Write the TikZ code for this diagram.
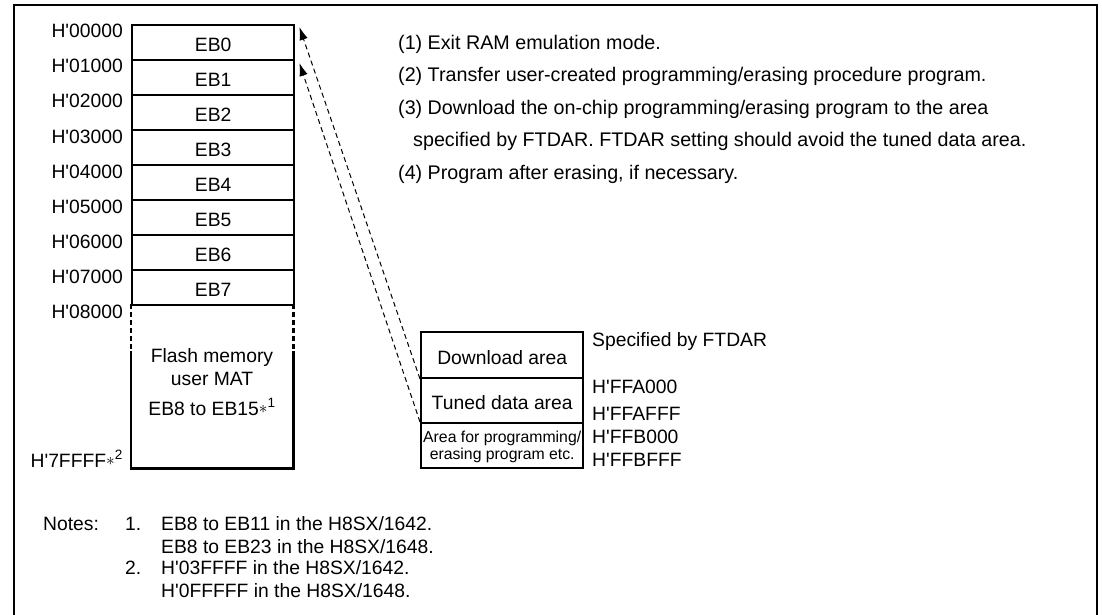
\documentclass[tikz,border=0pt]{standalone}
\usepackage{fontspec}
\setmainfont{Liberation Sans}
\usetikzlibrary{arrows.meta}
\newcommand{\starsup}[1]{\raisebox{0.15ex}{\fontsize{18}{18}\selectfont$\ast$}\textsuperscript{#1}}
\newcommand{\hq}{H\textquotesingle}
\begin{document}
\begin{tikzpicture}[x=1pt,y=-1pt,
  frame/.style={line width=2.6pt},
  plainbox/.style={draw, line width=2.4pt, inner sep=0pt, anchor=north west, minimum width=162pt},
  box/.style={plainbox, font=\fontsize{19.3}{22}\selectfont, text height=18pt, text depth=0pt},
  lbl/.style={font=\fontsize{19.3}{22}\selectfont, inner sep=0pt},
  small/.style={font=\fontsize{15.8}{16.5}\selectfont, inner sep=0pt, align=center},
  stepline/.style={font=\fontsize{19.7}{22}\selectfont, inner sep=0pt, anchor=base west},
  arr/.style={line width=1pt, dash pattern=on 5pt off 3.5pt, -{Latex[length=13pt,width=8.5pt]}},
]
\useasboundingbox (0,0) rectangle (1102,615);
\draw[frame] (14,616) -- (14,5) -- (1097,5) -- (1097,616);

% memory map
\foreach \i in {0,...,7}{
  \node[box, minimum height=35pt] (eb\i) at (131,{24+35*\i}) {EB\i};
}
\foreach \i in {0,...,8}{
  \node[lbl, anchor=base east] (ad\i) at (123,{38+35*\i}) {\hq0\i000};
}
\node[inner sep=0pt, anchor=north west, minimum width=162pt, minimum height=164pt] (flash) at (131,304) {};
\draw[line width=2.4pt] ([yshift=-47pt]flash.north west) -- (flash.south west) -- (flash.south east) -- ([yshift=-47pt]flash.north east);
\draw[line width=2.4pt, dash pattern=on 5pt off 3pt] (flash.north west) -- ([yshift=-47pt]flash.north west);
\draw[line width=2.4pt, dash pattern=on 5pt off 3pt] (flash.north east) -- ([yshift=-47pt]flash.north east);
\node[lbl, anchor=base] (fm1) at (212,362) {Flash memory};
\node[lbl, anchor=base] (fm2) at (212,385) {user MAT};
\node[lbl, anchor=base] (fm3) at (212,415) {EB8 to EB15\starsup{1}};
\node[lbl, anchor=base east] (adend) at (123,467) {\hq7FFFF\starsup{2}};

% RAM area
\node[box, minimum height=46pt] (dl) at (420,331) {Download area};
\node[box, minimum height=45pt] (td) at (420,377) {Tuned data area};
\node[plainbox, minimum height=45pt] (ap) at (420,422) {};
\node[small] (aptext) at ([yshift=-1pt]ap.center) {Area for programming/\\erasing program etc.};

\node[lbl, anchor=base west] (r1) at (592,346) {Specified by FTDAR};
\node[lbl, anchor=base west] (r2) at (592,393) {\hq FFA000};
\node[lbl, anchor=base west] (r3) at (592,420) {\hq FFAFFF};
\node[lbl, anchor=base west] (r4) at (592,443) {\hq FFB000};
\node[lbl, anchor=base west] (r5) at (592,466) {\hq FFBFFF};

% arrows
\coordinate (t0) at ([shift={(4pt,-3pt)}]eb0.north east);
\coordinate (t1) at ([shift={(4pt,-4pt)}]eb1.north east);
\draw[arr] ([yshift=-2pt]td.north west) -- (t0);
\draw[arr] (ap.north west) -- (t1);

% steps
\node[stepline] (s1) at (398,49.5) {(1) Exit RAM emulation mode.};
\node[stepline] (s2) at (398,82) {(2) Transfer user-created programming/erasing procedure program.};
\node[stepline] (s3) at (398,114.5) {(3) Download the on-chip programming/erasing program to the area};
\node[stepline] (s3b) at (413,146.5) {specified by FTDAR. FTDAR setting should avoid the tuned data area.};
\node[stepline] (s4) at (398,179) {(4) Program after erasing, if necessary.};

% notes
\node[lbl, anchor=base west] (n0) at (43,530) {Notes:};
\node[lbl, anchor=base west] (n1) at (125,530) {1.};
\node[lbl, anchor=base west] (n1a) at (161,530) {EB8 to EB11 in the H8SX/1642.};
\node[lbl, anchor=base west] (n1b) at (161,553) {EB8 to EB23 in the H8SX/1648.};
\node[lbl, anchor=base west] (n2) at (125,574) {2.};
\node[lbl, anchor=base west] (n2a) at (161,574) {\hq03FFFF in the H8SX/1642.};
\node[lbl, anchor=base west] (n2b) at (161,597) {\hq0FFFFF in the H8SX/1648.};
\end{tikzpicture}
\end{document}
